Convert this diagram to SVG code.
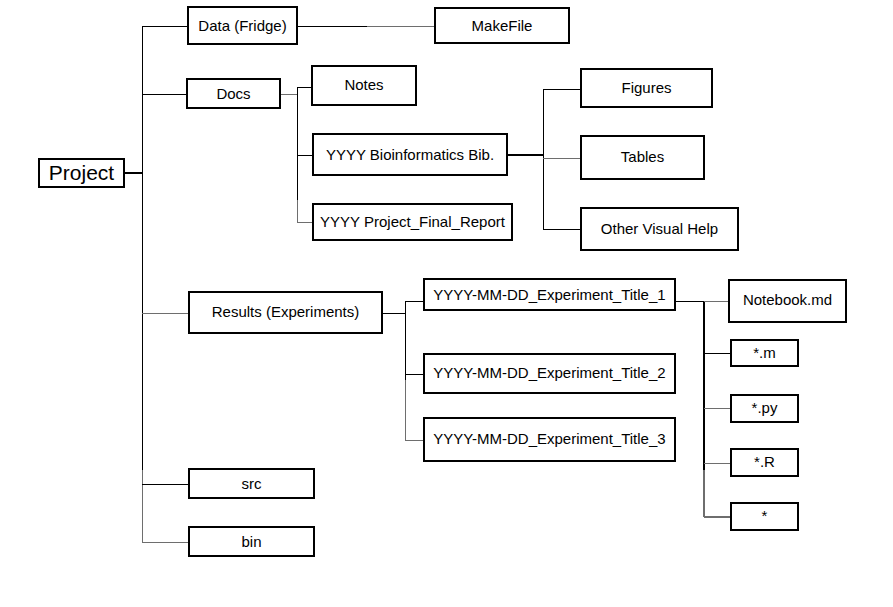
<svg xmlns="http://www.w3.org/2000/svg" width="893" height="607" viewBox="0 0 893 607">
<style>
.box{fill:#fff;stroke:#000;stroke-width:2}
.t{font-family:"Liberation Sans",Arial,sans-serif;font-size:15px;fill:#000;text-anchor:middle}
.big{font-size:21px}
.c{fill:none;stroke:#000;stroke-width:1;shape-rendering:crispEdges}
.g{stroke:#6e6e6e}
.th{stroke-width:2}
</style>
<rect width="893" height="607" fill="#fff"/>
<g id="connectors">
<path class="c th" d="M124,173H142"/>
<path class="c" d="M142,26V470"/>
<path class="c g" d="M142,470V542"/>
<path class="c" d="M142,26H188M142,94H188M142,484H189"/>
<path class="c g" d="M142,313H189M142,542H189"/>
<path class="c" d="M297,26H367"/>
<path class="c g" d="M367,26H435"/>
<path class="c g" d="M280,94H297"/>
<path class="c" d="M297,87V200"/>
<path class="c g" d="M297,200V222"/>
<path class="c" d="M297,87H312M297,155H313"/>
<path class="c g" d="M297,222H313"/>
<path class="c th" d="M507,155H543"/>
<path class="c" d="M543,89V229M543,89H581M543,229H581"/>
<path class="c g" d="M543,158H581"/>
<path class="c" d="M382,313H405"/>
<path class="c" d="M405,301V380"/>
<path class="c g" d="M405,380V440"/>
<path class="c" d="M405,301H424M405,374H424"/>
<path class="c g" d="M405,440H424"/>
<path class="c" d="M675,301H704"/>
<path class="c th" d="M704,301V470"/>
<path class="c th g" d="M704,470V517"/>
<path class="c g" d="M704,301H729"/>
<path class="c" d="M704,353H731"/>
<path class="c g" d="M704,408H731M704,463H731"/>
<path class="c th g" d="M704,517H731"/>
</g>
<g id="project"><rect class="box" x="39" y="159" width="85" height="28"/><text class="t big" x="81.5" y="180">Project</text></g>
<g id="data"><rect class="box" x="188" y="7" width="109" height="37"/><text class="t" x="242.5" y="31">Data (Fridge)</text></g>
<g id="makefile"><rect class="box" x="435" y="8" width="134" height="35"/><text class="t" x="502" y="31">MakeFile</text></g>
<g id="docs"><rect class="box" x="187" y="79" width="93" height="29"/><text class="t" x="233.5" y="99">Docs</text></g>
<g id="notes"><rect class="box" x="312" y="66" width="104" height="39"/><text class="t" x="364" y="90">Notes</text></g>
<g id="bib"><rect class="box" x="313" y="134" width="194" height="41"/><text class="t" x="410" y="160">YYYY  Bioinformatics Bib.</text></g>
<g id="report"><rect class="box" x="313" y="204" width="199" height="36"/><text class="t" x="412.5" y="227">YYYY  Project_Final_Report</text></g>
<g id="figures"><rect class="box" x="581" y="69" width="131" height="38"/><text class="t" x="646.5" y="93">Figures</text></g>
<g id="tables"><rect class="box" x="581" y="136" width="123" height="43"/><text class="t" x="642.5" y="162">Tables</text></g>
<g id="other"><rect class="box" x="581" y="208" width="157" height="42"/><text class="t" x="659.5" y="234">Other Visual Help</text></g>
<g id="results"><rect class="box" x="189" y="292" width="193" height="41"/><text class="t" x="285.5" y="317">Results (Experiments)</text></g>
<g id="src"><rect class="box" x="189" y="469" width="125" height="29"/><text class="t" x="251.5" y="489">src</text></g>
<g id="bin"><rect class="box" x="189" y="527" width="125" height="29"/><text class="t" x="251.5" y="547">bin</text></g>
<g id="exp1"><rect class="box" x="424" y="279" width="251" height="31"/><text class="t" x="549.5" y="300">YYYY-MM-DD_Experiment_Title_1</text></g>
<g id="exp2"><rect class="box" x="424" y="354" width="251" height="39"/><text class="t" x="549.5" y="378">YYYY-MM-DD_Experiment_Title_2</text></g>
<g id="exp3"><rect class="box" x="424" y="418" width="251" height="43"/><text class="t" x="549.5" y="444">YYYY-MM-DD_Experiment_Title_3</text></g>
<g id="notebook"><rect class="box" x="729" y="280" width="117" height="42"/><text class="t" x="787.5" y="305">Notebook.md</text></g>
<g id="m"><rect class="box" x="731" y="340" width="67" height="26"/><text class="t" x="764.5" y="358">*.m</text></g>
<g id="py"><rect class="box" x="731" y="395" width="67" height="27"/><text class="t" x="764.5" y="413">*.py</text></g>
<g id="r"><rect class="box" x="731" y="449" width="67" height="27"/><text class="t" x="764.5" y="467">*.R</text></g>
<g id="star"><rect class="box" x="731" y="503" width="67" height="27"/><text class="t" x="764.5" y="521">*</text></g>
</svg>
